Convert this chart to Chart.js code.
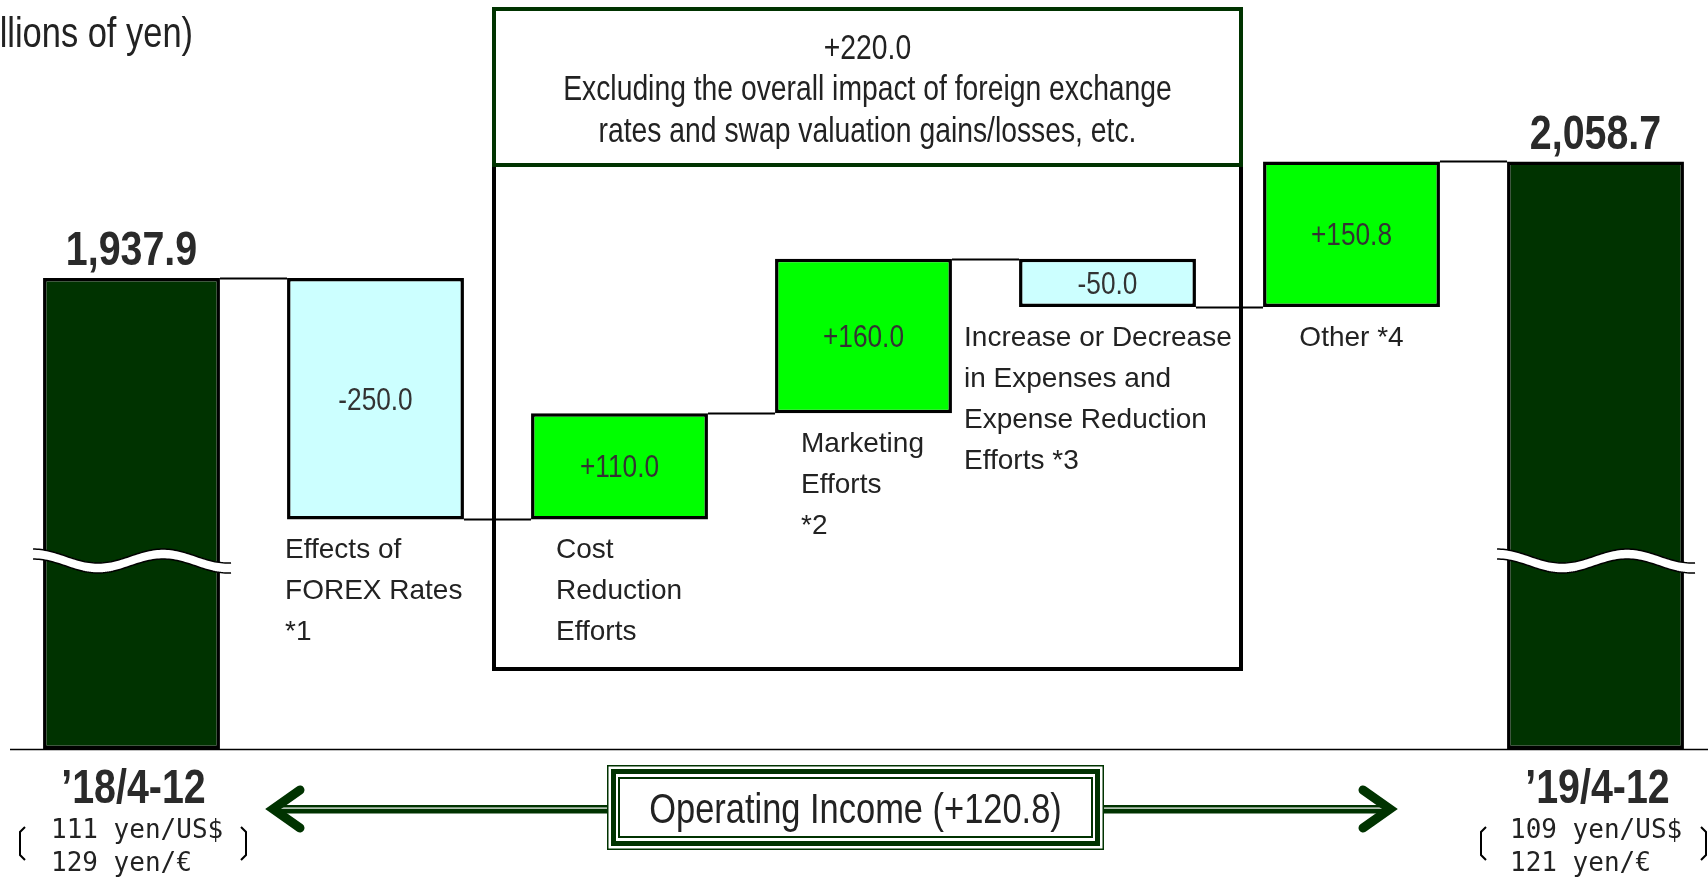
<!DOCTYPE html>
<html>
<head>
<meta charset="utf-8">
<script src="https://cdn.jsdelivr.net/npm/chart.js@4.4.1/dist/chart.umd.min.js"></script>
<style>
  html, body { margin: 0; padding: 0; background: #fff; overflow: hidden; }
  #wrap { width: 1720px; height: 878px; }
</style>
</head>
<body>
<div id="wrap"><canvas id="bridge" width="1720" height="878"></canvas></div>
<script>
// Operating income bridge (billions of yen)
const categories = ['’18/4-12', 'Effects of FOREX Rates *1', 'Cost Reduction Efforts', 'Marketing Efforts *2',
  'Increase or Decrease in Expenses and Expense Reduction Efforts *3', 'Other *4', '’19/4-12'];
const categoryLines = [
  [],
  ['Effects of', 'FOREX Rates', '*1'],
  ['Cost', 'Reduction', 'Efforts'],
  ['Marketing', 'Efforts', '*2'],
  ['Increase or Decrease', 'in Expenses and', 'Expense Reduction', 'Efforts *3'],
  ['Other *4'],
  []
];
const startValue = 1937.9;
const endValue = 2058.7;
const deltas = [-250.0, 110.0, 160.0, -50.0, 150.8];
const periodLabels = ['’18/4-12', '’19/4-12'];
const rateLines = [['111 yen/US$', '129 yen/€'], ['109 yen/US$', '121 yen/€']];
const unitLabel = '(Billions of yen)';
const boxNote = ['Excluding the overall impact of foreign exchange', 'rates and swap valuation gains/losses, etc.'];
// the y axis is cut, so the two totals start from the cut
const axisMin = 1450;
const axisMax = 2226;

const DARK = '#003300';
const GREEN = '#00ff00';
const PALE = '#ccffff';
const TEXT = '#222';
const SANS = "'Liberation Sans', Arial, sans-serif";
const MONO = "'DejaVu Sans Mono', 'Liberation Mono', monospace";
const NARROW = 0.82; // no narrow face installed, squeeze the sans instead

// floating bars + running levels
const ranges = [[axisMin, startValue]];
const colors = [DARK];
const levels = [startValue];
let running = startValue;
deltas.forEach(d => {
  ranges.push([running, running + d]);
  colors.push(d >= 0 ? GREEN : PALE);
  running += d;
  levels.push(running);
});
ranges.push([axisMin, endValue]);
colors.push(DARK);

const fmtSigned = v => (v >= 0 ? '+' : '') + v.toFixed(1);
const fmtTotal = v => v.toLocaleString('en-US', { minimumFractionDigits: 1, maximumFractionDigits: 1 });

// where the category text goes relative to its bar
const labelPlace = [null, { dx: -2, align: 'left' }, { dx: 25, align: 'left' }, { dx: 26, align: 'left' },
  { dx: -55, align: 'left' }, { dx: 0, align: 'center' }, null];

function text(ctx, str, x, y, font, align, color, sx) {
  ctx.save();
  ctx.translate(x, y);
  ctx.scale(sx || 1, 1);
  ctx.font = font;
  ctx.textAlign = align || 'left';
  ctx.textBaseline = 'alphabetic';
  ctx.fillStyle = color || TEXT;
  ctx.fillText(str, 0, 0);
  ctx.restore();
}
const narrowText = (ctx, str, x, y, size, align, weight, color) =>
  text(ctx, str, x, y, (weight || '') + ' ' + size + 'px ' + SANS, align, color, NARROW);

function breakWave(ctx, x0, x1, yc) {
  const wave = x => yc - 7 * Math.cos(2 * Math.PI * (x - x0) / 130);
  ctx.beginPath();
  for (let x = x0; x <= x1; x += 2) ctx.lineTo(x, wave(x));
  for (let x = x1; x >= x0; x -= 2) ctx.lineTo(x, wave(x) + 10);
  ctx.closePath();
  ctx.fillStyle = '#fff';
  ctx.fill();
  ctx.strokeStyle = '#000';
  ctx.lineWidth = 1.5;
  [0, 10].forEach(off => {
    ctx.beginPath();
    for (let x = x0; x <= x1; x += 2) ctx.lineTo(x, wave(x) + off);
    ctx.stroke();
  });
}

function arrowHead(ctx, tipX, y, dir) {
  ctx.beginPath();
  ctx.moveTo(tipX - dir * 27, y - 19);
  ctx.lineTo(tipX, y);
  ctx.lineTo(tipX - dir * 27, y + 19);
  ctx.lineWidth = 9;
  ctx.lineCap = 'round';
  ctx.lineJoin = 'miter';
  ctx.strokeStyle = DARK;
  ctx.stroke();
}

function shaft(ctx, xa, xb, y) {
  ctx.fillStyle = DARK;
  ctx.fillRect(xa, y - 4, xb - xa, 8.5);
  ctx.fillStyle = '#fff';
  ctx.fillRect(xa, y - 1.5, xb - xa, 1.2);
}

const bridgeDecor = {
  id: 'bridgeDecor',
  beforeDatasetsDraw(chart) {
    const ctx = chart.ctx;
    const area = chart.chartArea;
    ctx.save();
    // base line
    ctx.strokeStyle = '#000';
    ctx.lineWidth = 1.5;
    ctx.beginPath();
    ctx.moveTo(10, area.bottom + 0.5);
    ctx.lineTo(1720, area.bottom + 0.5);
    ctx.stroke();

    // box around the three efforts
    ctx.lineWidth = 4;
    ctx.strokeStyle = '#000';
    ctx.beginPath();
    ctx.moveTo(494, 165);
    ctx.lineTo(494, 669);
    ctx.lineTo(1241, 669);
    ctx.lineTo(1241, 165);
    ctx.stroke();
    ctx.strokeStyle = DARK;
    ctx.strokeRect(494, 9, 747, 156);
    ctx.restore();
  },
  afterDatasetsDraw(chart) {
    const ctx = chart.ctx;
    const ys = chart.scales.y;
    const bars = chart.getDatasetMeta(0).data;
    ctx.save();

    // connectors
    ctx.strokeStyle = '#000';
    ctx.lineWidth = 2;
    for (let i = 0; i < bars.length - 1; i++) {
      const y = Math.round(ys.getPixelForValue(levels[i])) + 0.5;
      ctx.beginPath();
      ctx.moveTo(bars[i].x + bars[i].width / 2, y);
      ctx.lineTo(bars[i + 1].x - bars[i + 1].width / 2, y);
      ctx.stroke();
    }

    // totals
    const first = bars[0], last = bars[bars.length - 1];
    narrowText(ctx, fmtTotal(startValue), first.x, ys.getPixelForValue(startValue) - 13, 48, 'center', 'bold', '#2a2a2a');
    narrowText(ctx, fmtTotal(endValue), last.x, ys.getPixelForValue(endValue) - 12, 48, 'center', 'bold', '#2a2a2a');

    // deltas and their names
    deltas.forEach((d, k) => {
      const i = k + 1;
      const b = bars[i];
      const yTop = ys.getPixelForValue(Math.max(...ranges[i]));
      const yBot = ys.getPixelForValue(Math.min(...ranges[i]));
      narrowText(ctx, fmtSigned(d), b.x, (yTop + yBot) / 2 + 11, 32, 'center', '', '#333');
      const p = labelPlace[i];
      const x = p.align === 'center' ? b.x + p.dx : b.x - b.width / 2 + p.dx;
      categoryLines[i].forEach((line, j) => {
        text(ctx, line, x, yBot + 39 + j * 41, '28px ' + SANS, p.align);
      });
    });

    // axis break marks
    breakWave(ctx, first.x - first.width / 2 - 10, first.x + first.width / 2 + 12, 556);
    breakWave(ctx, last.x - last.width / 2 - 10, last.x + last.width / 2 + 12, 556);

    // unit
    narrowText(ctx, unitLabel, 193, 47, 42, 'right');

    // box header
    const boxMid = (494 + 1241) / 2;
    narrowText(ctx, fmtSigned(deltas[1] + deltas[2] + deltas[3]), boxMid, 59, 34.5, 'center');
    narrowText(ctx, boxNote[0], boxMid, 100, 34.5, 'center');
    narrowText(ctx, boxNote[1], boxMid, 142, 34.5, 'center');

    // period labels + exchange rates
    [first, last].forEach((b, k) => {
      narrowText(ctx, periodLabels[k], b.x + 2, 803, 48, 'center', 'bold', '#2a2a2a');
      const left = k === 0 ? 51 : 1510;
      text(ctx, rateLines[k][0], left, 838, '26px ' + MONO, 'left');
      text(ctx, rateLines[k][1], left, 871, '26px ' + MONO, 'left');
      const bl = k === 0 ? 20 : 1481;
      const br = k === 0 ? 246 : 1706;
      ctx.strokeStyle = '#000';
      ctx.lineWidth = 2;
      ctx.lineCap = 'butt';
      ctx.beginPath();
      ctx.moveTo(bl + 5, 827); ctx.lineTo(bl, 832); ctx.lineTo(bl, 855); ctx.lineTo(bl + 5, 860);
      ctx.moveTo(br - 5, 827); ctx.lineTo(br, 832); ctx.lineTo(br, 855); ctx.lineTo(br - 5, 860);
      ctx.stroke();
    });

    // double arrow with the operating income box
    const ay = 809;
    shaft(ctx, 276, 608, ay);
    shaft(ctx, 1103, 1386, ay);
    arrowHead(ctx, 273, ay, -1);
    arrowHead(ctx, 1390, ay, 1);
    ctx.fillStyle = '#fff';
    ctx.fillRect(607, 765, 497, 85);
    ctx.strokeStyle = DARK;
    ctx.lineWidth = 1.5;
    ctx.strokeRect(607.75, 765.75, 495.5, 83.5);
    ctx.lineWidth = 5;
    ctx.strokeRect(613.5, 771.5, 484, 72);
    ctx.lineWidth = 2;
    ctx.strokeRect(619, 778, 473, 59);
    narrowText(ctx, 'Operating Income (' + fmtSigned(endValue - startValue) + ')', (607 + 1104) / 2, 823, 42, 'center');

    ctx.restore();
  }
};

new Chart(document.getElementById('bridge'), {
  type: 'bar',
  data: {
    labels: categories,
    datasets: [{
      data: ranges,
      backgroundColor: colors,
      borderColor: '#000',
      borderWidth: 3.5,
      borderSkipped: false,
      barPercentage: 0.725,
      categoryPercentage: 1
    }]
  },
  options: {
    responsive: false,
    animation: false,
    devicePixelRatio: 1,
    layout: { padding: { left: 9.5, right: 2.5, top: 0, bottom: 129 } },
    plugins: {
      legend: { display: false },
      tooltip: { enabled: false }
    },
    scales: {
      x: { display: false },
      y: { display: false, min: axisMin, max: axisMax }
    }
  },
  plugins: [bridgeDecor]
});
</script>
</body>
</html>
